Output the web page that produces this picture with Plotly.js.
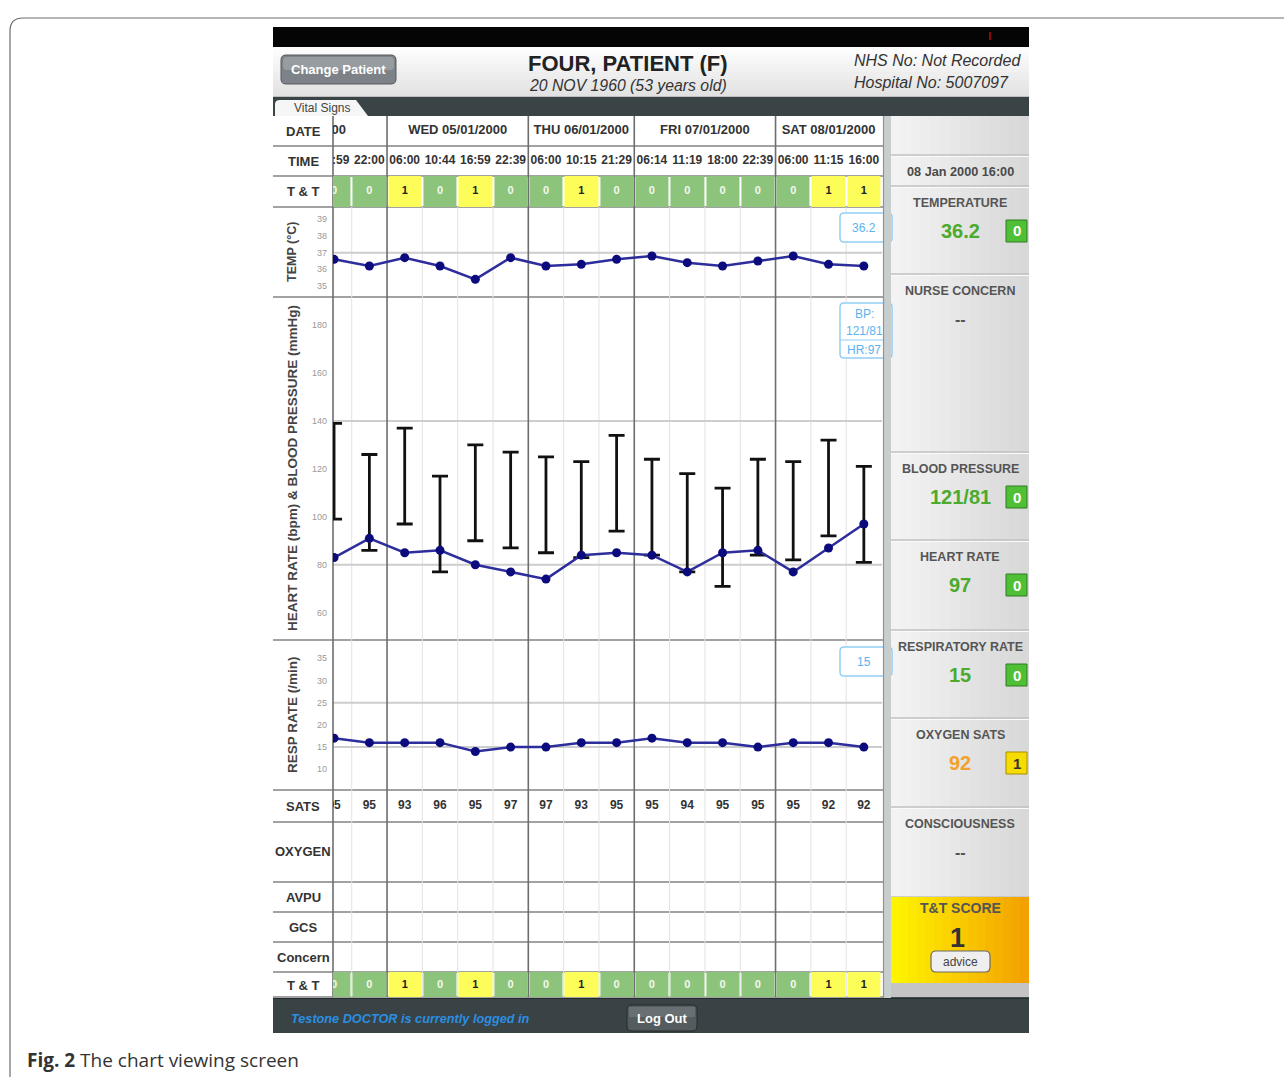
<!DOCTYPE html>
<html><head><meta charset="utf-8">
<script src="https://cdn.plot.ly/plotly-3.0.1.min.js"></script>
<style>html,body{margin:0;padding:0;background:#fff;}#chart{width:1284px;height:1077px;}</style>
</head><body><div id="chart"></div>
<script>
// ---------------- DATA ----------------
const dayLabels = ['TUE 04/01/2000','WED 05/01/2000','THU 06/01/2000','FRI 07/01/2000','SAT 08/01/2000'];
const dayOfCol  = [0,0,1,1,1,1,2,2,2,3,3,3,3,4,4,4];
const times     = ['16:59','22:00','06:00','10:44','16:59','22:39','06:00','10:15','21:29','06:14','11:19','18:00','22:39','06:00','11:15','16:00'];
const ttScores  = [0,0,1,0,1,0,0,1,0,0,0,0,0,0,1,1];
const temperature = [36.6,36.2,36.7,36.2,35.4,36.7,36.2,36.3,36.6,36.8,36.4,36.2,36.5,36.8,36.3,36.2];
const systolic  = [139,126,137,117,130,127,125,123,134,124,118,112,124,123,132,121];
const diastolic = [99,86,97,77,90,87,85,83,94,84,77,71,84,82,92,81];
const heartRate = [83,91,85,86,80,77,74,84,85,84,77,85,86,77,87,97];
const respRate  = [17,16,16,16,14,15,15,16,16,17,16,16,15,16,16,15];
const sats      = [95,95,93,96,95,97,97,93,95,95,94,95,95,95,92,92];
const tempTicks = [35,36,37,38,39];
const bpTicks   = [60,80,100,120,140,160,180];
const respTicks = [10,15,20,25,30,35];
const tempRefLines = [37];
const bpRefLines   = [80,140];
const respRefLines = [15,25];
const tableLabelsTop = ['DATE','TIME','T &amp; T'];
const tableLabelsBottom = ['SATS','OXYGEN','AVPU','GCS','Concern','T &amp; T'];
const panelItems = [
  {label:'TEMPERATURE', value:String(temperature[temperature.length-1]), score:0},
  {label:'NURSE CONCERN', value:'--', score:null},
  {label:'BLOOD PRESSURE', value:systolic[systolic.length-1]+'/'+diastolic[diastolic.length-1], score:0},
  {label:'HEART RATE', value:String(heartRate[heartRate.length-1]), score:0},
  {label:'RESPIRATORY RATE', value:String(respRate[respRate.length-1]), score:0},
  {label:'OXYGEN SATS', value:String(sats[sats.length-1]), score:1},
  {label:'CONSCIOUSNESS', value:'--', score:null}
];
const hiddenColsBeforeFirstDay = 3;

// ---------------- HELPERS ----------------
const FONT='Liberation Sans, Arial, Helvetica, sans-serif';
const W=1284,H=1077;
const px=v=>v/W, py=v=>1-v/H;
const shapes=[], ann=[];
function hex(c){c=c.replace('#','');return [0,2,4].map(i=>parseInt(c.substr(i,2),16));}
function mix(a,b,t){const A=hex(a),B=hex(b);return 'rgb('+A.map((v,i)=>Math.round(v+(B[i]-v)*t)).join(',')+')';}
function rect(x0,y0,x1,y1,fill,o){shapes.push(Object.assign({type:'rect',xref:'paper',yref:'paper',x0:px(x0),x1:px(x1),y0:py(y1),y1:py(y0),fillcolor:fill,line:{width:0},layer:'below'},o||{}));}
function hgrad(x0,y0,x1,y1,c0,c1,n,layer){const w=(x1-x0)/n;for(let k=0;k<n;k++)rect(x0+k*w,y0,Math.min(x1,x0+(k+1)*w+0.7),y1,mix(c0,c1,k/(n-1)),{layer:layer||'below'});}
function vgrad(x0,y0,x1,y1,c0,c1,n,layer){const h=(y1-y0)/n;for(let k=0;k<n;k++)rect(x0,y0+k*h,x1,Math.min(y1,y0+(k+1)*h+0.7),mix(c0,c1,k/(n-1)),{layer:layer||'below'});}
function line(x0,y0,x1,y1,color,w,layer){shapes.push({type:'line',xref:'paper',yref:'paper',x0:px(x0),y0:py(y0),x1:px(x1),y1:py(y1),line:{color:color,width:w},layer:layer||'below'});}
function rrect(x0,y0,x1,y1,r,fill,lc,lw,layer){
  const P=(x,y)=>px(x).toFixed(6)+','+py(y).toFixed(6);
  const d='M'+P(x0+r,y0)+'L'+P(x1-r,y0)+'Q'+P(x1,y0)+' '+P(x1,y0+r)+'L'+P(x1,y1-r)+'Q'+P(x1,y1)+' '+P(x1-r,y1)+'L'+P(x0+r,y1)+'Q'+P(x0,y1)+' '+P(x0,y1-r)+'L'+P(x0,y0+r)+'Q'+P(x0,y0)+' '+P(x0+r,y0)+'Z';
  shapes.push({type:'path',xref:'paper',yref:'paper',path:d,fillcolor:fill||'rgba(0,0,0,0)',line:{color:lc||'rgba(0,0,0,0)',width:lw||0},layer:layer||'below'});
}
function txt(x,y,t,size,color,o){ann.push(Object.assign({xref:'paper',yref:'paper',x:px(x),y:py(y),text:t,showarrow:false,font:{family:FONT,size:size,color:color},xanchor:'center',yanchor:'middle'},o||{}));}

// ---------------- PAGE FRAME & CAPTION ----------------
(function(){
  const P=(x,y)=>px(x).toFixed(6)+','+py(y).toFixed(6);
  shapes.push({type:'path',xref:'paper',yref:'paper',path:'M'+P(10,1077)+'L'+P(10,31)+'Q'+P(10,18)+' '+P(23,18)+'L'+P(1284,18),line:{color:'#6d6d6d',width:1.2},fillcolor:'rgba(0,0,0,0)',layer:'below'});
})();
txt(25,1060,'<b>Fig. 2</b> The chart viewing screen',19,'#333',{xanchor:'left',font:{family:'Open Sans, Noto Sans, sans-serif',size:19,color:'#333'}});

// ---------------- APP HEADER ----------------
rect(273,27,1029,47,'#050505');
rect(989,32,991,40,'#8a0a0a');
vgrad(273,47,1029,97,'#fdfdfd','#e2e2e2',12);
line(273,97,1029,97,'#9a9a9a',1);
rect(273,97,1029,116,'#3a4446');
(function(){const P=(x,y)=>px(x).toFixed(6)+','+py(y).toFixed(6);
 shapes.push({type:'path',xref:'paper',yref:'paper',path:'M'+P(275,116)+'L'+P(275,104)+'Q'+P(275,100)+' '+P(280,100)+'L'+P(356,100)+'L'+P(368,116)+'Z',fillcolor:'#f6f6f6',line:{width:0},layer:'below'});})();
txt(322,108,'Vital Signs',12,'#444');
rrect(281,55,396,84,5,'#7c8287','#55595d',1);
rrect(283,57,394,70,4,'#979ca1');
txt(338.5,69.5,'<b>Change Patient</b>',13,'#ffffff');
txt(628,63,'<b>FOUR, PATIENT (F)</b>',22,'#222');
txt(628,86,'<i>20 NOV 1960 (53 years old)</i>',15.8,'#333');
txt(852,61,'<i>NHS No: Not Recorded</i>',16,'#333',{xanchor:'left'});
txt(852,82,'<i>Hospital No: 5007097</i>',16,'#333',{xanchor:'left'});

// ---------------- RIGHT PANEL ----------------
hgrad(891,116,1029,998,'#f3f3f3','#d8d8d8',14);
const panelSeps=[155,186,274,452,540,630,718,807,897];
panelSeps.forEach(y=>{line(891,y,1029,y,'#c2c2c2',1.5);line(891,y+1.5,1029,y+1.5,'#fafafa',1);});
hgrad(891,897,1029,983,'#fff400','#f3a100',16);
rect(891,983,1029,998,'#c4c4c4');
const latestDay = dayLabels[dayOfCol[dayOfCol.length-1]].split(' ')[1].split('/');
const MONTHS=['Jan','Feb','Mar','Apr','May','Jun','Jul','Aug','Sep','Oct','Nov','Dec'];
txt(960,172,'<b>'+latestDay[0]+' '+MONTHS[+latestDay[1]-1]+' '+latestDay[2]+' '+times[times.length-1]+'</b>',12.7,'#4a4a4a');
const panelTops=[186,274,452,540,630,718,807];
panelItems.forEach((it,k)=>{
  const top=panelTops[k];
  txt(960,top+17,'<b>'+it.label+'</b>',12.5,'#555');
  const isDash = it.value==='--';
  const col = it.score===1 ? '#f2a22c' : (isDash ? '#555' : '#4caa2c');
  txt(960,top+45,'<b>'+it.value+'</b>',isDash?16:20,col);
  if(it.score!==null){
    const cy=top+45;
    if(it.score===0){rect(1006,cy-11,1027,cy+11,'#4fbf36',{line:{color:'#2f7d24',width:1}});txt(1016.5,cy,'<b>0</b>',15,'#ffffff');}
    else {rect(1006,cy-11,1027,cy+11,'#f6dc00',{line:{color:'#a88c00',width:1}});txt(1016.5,cy,'<b>1</b>',15,'#333');}
  }
});
txt(960,908,'<b>T&amp;T SCORE</b>',14,'#555');
txt(957,938,'<b>'+ttScores[ttScores.length-1]+'</b>',27,'#333');
rrect(931,951,990,972,5,'#efefef','#6a6a6a',1.2);
txt(960.5,961.5,'advice',12,'#444');

// ---------------- BOTTOM BAR ----------------
rect(273,998,1029,1033,'#394345');
line(273,998,1029,998,'#1e2426',1.5);
txt(289,1019,'<b><i>Testone DOCTOR is currently logged in</i></b>',12.7,'#2b8ee0',{xanchor:'left'});
rrect(627,1005,697,1031,5,'#555c5f','#262b2d',1);
rect(629,1007,695,1017,'#687073');
txt(662,1018,'<b>Log Out</b>',13,'#ffffff');

// ---------------- TABLE GRID ----------------
const idx = times.map((_,i)=>i);
const rowSeps=[146,176,207,297,640,790,822,882,912,942,972,997];
rowSeps.forEach(y=>line(273,y,883,y,'#a2a2a2',1.8));
const dayBounds=[];
for(let i=1;i<dayOfCol.length;i++){ if(dayOfCol[i]!==dayOfCol[i-1]) dayBounds.push(i-0.5); }
for(let i=0;i<dayOfCol.length-1;i++){
  const b=i+0.5;
  if(dayBounds.indexOf(b)<0) shapes.push({type:'line',xref:'x',yref:'paper',x0:b,x1:b,y0:py(997),y1:py(207),line:{color:'#e2e2e2',width:1},layer:'below'});
}
function refLine(axis,v){shapes.push({type:'line',xref:'paper',yref:axis,x0:px(333),x1:px(882),y0:v,y1:v,line:{color:'#cdcdcd',width:2},layer:'below'});}
tempRefLines.forEach(v=>refLine('y',v));
bpRefLines.forEach(v=>refLine('y2',v));
respRefLines.forEach(v=>refLine('y3',v));
dayBounds.forEach(b=>shapes.push({type:'line',xref:'x',yref:'paper',x0:b,x1:b,y0:py(997),y1:py(116),line:{color:'#6e6e6e',width:1.6},layer:'below'}));
line(333,116,333,997,'#6e6e6e',1.6);

const topRowY=[131,161,191.5];
tableLabelsTop.forEach((l,k)=>txt(303,topRowY[k],'<b>'+l+'</b>',13,'#333'));
const botRowY=[806,851.5,897,927,957,985];
tableLabelsBottom.forEach((l,k)=>txt(303,botRowY[k],'<b>'+l+'</b>',13,'#333'));
txt(292,252,'<b>TEMP (°C)</b>',12.5,'#444',{textangle:-90});
txt(292,468,'<b>HEART RATE (bpm) &amp; BLOOD PRESSURE (mmHg)</b>',13.5,'#444',{textangle:-90});
txt(292,715,'<b>RESP RATE (/min)</b>',13.5,'#444',{textangle:-90});

// ---------------- LATEST-VALUE CALLOUTS ----------------
const L=temperature.length-1;
const blueB='#93cef4', blueT='#5db2ee';
rrect(840,213,892,242,4,'#ffffff',blueB,1.5,'above');
txt(864,228,String(temperature[L]),12,blueT);
rrect(840,303,892,358,4,'#ffffff',blueB,1.5,'above');
line(840,340,892,340,blueB,1.2,'above');
txt(864,314,'BP:',12,blueT);
txt(864,331,systolic[L]+'/'+diastolic[L],12,blueT);
txt(864,350,'HR:'+heartRate[L],12,blueT);
rrect(840,647,892,676,4,'#ffffff',blueB,1.5,'above');
txt(864,662,String(respRate[L]),12,blueT);
rect(883,116,891,998,'#c8cdcd',{layer:'above'});
line(883.5,116,883.5,998,'#8f9595',1.2,'above');

// ---------------- TRACES ----------------
const ttColorscale=[[0,'#8cc47b'],[0.5,'#8cc47b'],[0.5,'#fdfd5a'],[1,'#fdfd5a']];
const ttTextColor = ttScores.map(v=>v?'#222':'#f4f8f0');
const dayCenters = dayLabels.map((_,d)=>{
  const cols=idx.filter(i=>dayOfCol[i]===d);
  const first=(d===0)?cols[0]-hiddenColsBeforeFirstDay:cols[0];
  return (first+cols[cols.length-1])/2;
});
const lineCol='#2d2d9c', dotCol='#0b0b7d';
const traces=[
  {type:'heatmap',x:idx,y:[176,207],z:[ttScores],xaxis:'x',yaxis:'y4',colorscale:ttColorscale,zmin:0,zmax:1,showscale:false,xgap:2,hoverinfo:'skip'},
  {type:'heatmap',x:idx,y:[972,997],z:[ttScores],xaxis:'x',yaxis:'y5',colorscale:ttColorscale,zmin:0,zmax:1,showscale:false,xgap:2,hoverinfo:'skip'},
  {type:'scatter',mode:'text',x:dayCenters,y:dayCenters.map(()=>131),text:dayLabels.map(s=>'<b>'+s+'</b>'),xaxis:'x',yaxis:'y4',textfont:{family:FONT,size:13,color:'#333'},cliponaxis:true,hoverinfo:'skip'},
  {type:'scatter',mode:'text',x:idx,y:idx.map(()=>161),text:times.map(s=>'<b>'+s+'</b>'),xaxis:'x',yaxis:'y4',textfont:{family:FONT,size:12,color:'#333'},cliponaxis:true,hoverinfo:'skip'},
  {type:'scatter',mode:'text',x:idx,y:idx.map(()=>191.5),text:ttScores.map(s=>'<b>'+s+'</b>'),xaxis:'x',yaxis:'y4',textfont:{family:FONT,size:11,color:ttTextColor},cliponaxis:true,hoverinfo:'skip'},
  {type:'scatter',mode:'text',x:idx,y:idx.map(()=>806),text:sats.map(s=>'<b>'+s+'</b>'),xaxis:'x',yaxis:'y5',textfont:{family:FONT,size:12,color:'#333'},cliponaxis:true,hoverinfo:'skip'},
  {type:'scatter',mode:'text',x:idx,y:idx.map(()=>985),text:ttScores.map(s=>'<b>'+s+'</b>'),xaxis:'x',yaxis:'y5',textfont:{family:FONT,size:11,color:ttTextColor},cliponaxis:true,hoverinfo:'skip'},
  {type:'scatter',mode:'lines+markers',x:idx,y:temperature,xaxis:'x',yaxis:'y',line:{color:lineCol,width:2.5},marker:{color:dotCol,size:9},cliponaxis:true,hoverinfo:'skip'},
  {type:'scatter',mode:'markers',x:idx,y:diastolic,xaxis:'x',yaxis:'y2',marker:{size:1,color:'rgba(0,0,0,0)'},
    error_y:{type:'data',symmetric:false,array:systolic.map((s,i)=>s-diastolic[i]),arrayminus:diastolic.map(()=>0),color:'#111',thickness:2.8,width:8},cliponaxis:true,hoverinfo:'skip'},
  {type:'scatter',mode:'lines+markers',x:idx,y:heartRate,xaxis:'x',yaxis:'y2',line:{color:lineCol,width:2.5},marker:{color:dotCol,size:9},cliponaxis:true,hoverinfo:'skip'},
  {type:'scatter',mode:'lines+markers',x:idx,y:respRate,xaxis:'x',yaxis:'y3',line:{color:lineCol,width:2.5},marker:{color:dotCol,size:9},cliponaxis:true,hoverinfo:'skip'}
];

function tickAx(t,top,bot,range){return {domain:[py(bot),py(top)],range:range,anchor:'x',tickvals:t,ticktext:t.map(String),tickfont:{family:FONT,size:9,color:'#9a9a9a'},ticks:'',showgrid:false,zeroline:false,showline:false,fixedrange:true,ticklabelstandoff:5};}
const layout={
  width:W,height:H,margin:{l:0,r:0,t:0,b:0},paper_bgcolor:'#ffffff',plot_bgcolor:'rgba(0,0,0,0)',showlegend:false,
  font:{family:FONT},
  xaxis:{domain:[px(333),px(881.5)],range:[-0.03,15.5],visible:false,fixedrange:true,anchor:'y5'},
  yaxis:tickAx(tempTicks,207,297,[34.34,39.74]),
  yaxis2:tickAx(bpTicks,297,640,[48.6,191.7]),
  yaxis3:tickAx(respTicks,640,790,[5.34,39.1]),
  yaxis4:{domain:[py(207),py(116)],range:[207,116],anchor:'x',visible:false,fixedrange:true},
  yaxis5:{domain:[py(997),py(790)],range:[997,790],anchor:'x',visible:false,fixedrange:true},
  shapes:shapes,annotations:ann
};
Plotly.newPlot('chart',traces,layout,{staticPlot:true,displayModeBar:false});
</script></body></html>
